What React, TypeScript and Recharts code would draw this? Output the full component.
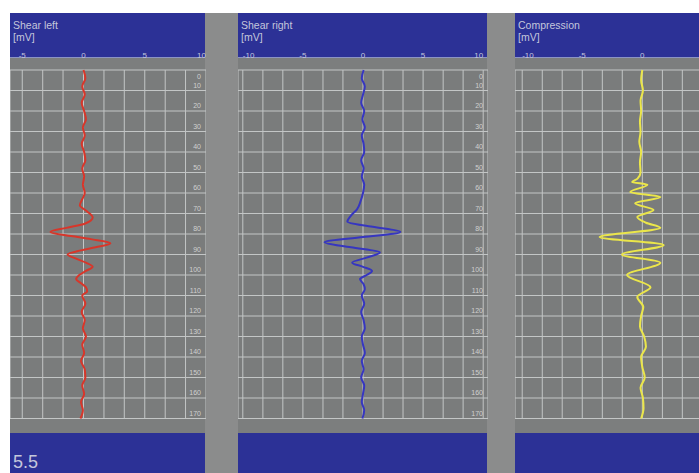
import React from "react";
import { LineChart, Line, XAxis, YAxis, CartesianGrid } from "recharts";

// depth scale (right-hand labels), shared by all three traces
const depthTicks = [0, 10, 20, 30, 40, 50, 60, 70, 80, 90, 100, 110, 120, 130, 140, 150, 160, 170];

// amplitude grid lines [mV]; only multiples of 5 get a label
const ampTicksLeft = [-5, -3.33, -1.67, 0, 1.67, 3.33, 5, 6.67, 8.33, 10];
const ampTicksWide = [-10, -8.33, -6.67, -5, -3.33, -1.67, 0, 1.67, 3.33, 5, 6.67, 8.33, 10];
const ampTicksComp = [-10, -8.33, -6.67, -5, -3.33, -1.67, 0, 1.67, 3.33];

// Shear left
const leftDepth = [
  0, 4, 8, 12, 16, 20, 24, 28, 32, 36,
  40, 44, 48, 52, 56, 60, 63, 66, 69, 72,
  75, 77, 79, 81, 82.5, 84.5, 86.5, 88, 90, 92,
  94, 96, 98, 100, 102, 104, 106, 108, 110, 114,
  118, 122, 126, 130, 134, 138, 142, 146, 150, 154,
  158, 162, 166, 170,
];
const leftAmp = [
  0, 0.15, -0.1, 0.1, -0.15, 0.05, 0.2, -0.05, 0.1, -0.15,
  0.05, 0.15, -0.1, 0.05, -0.05, 0.1, -0.1, -0.3, 0.3, 0.75,
  0.1, -1.4, -2.7, -1.0, 0.6, 2.2, 1.0, -0.2, -1.3, -0.6,
  0.2, 0.75, 0.2, -0.35, -0.6, -0.2, 0.2, 0.3, -0.1, 0.15,
  -0.15, 0.1, -0.05, 0.2, -0.1, 0.05, -0.2, 0.1, 0.15, -0.1,
  0.05, -0.2, -0.05, -0.25,
];

// Shear right
const rightDepth = [
  0, 4, 8, 12, 16, 20, 24, 28, 32, 36,
  40, 44, 48, 52, 56, 60, 64, 68, 71, 74,
  76.5, 79, 81.5, 84, 86.5, 89, 91.5, 94, 96, 98,
  100, 102, 104.5, 107, 110, 114, 118, 122, 126, 130,
  134, 138, 142, 146, 150, 154, 158, 162, 166, 170,
];
const rightAmp = [
  0.05, -0.1, 0.15, 0, -0.15, 0.1, -0.05, 0.15, -0.1, 0.05,
  0.1, -0.15, 0.05, -0.1, 0.1, 0, -0.2, -0.5, -1.0, -1.3,
  0.8, 3.1, 0, -3.2, -1.0, 1.4, 0.3, -0.9, 0, 0.75,
  0.3, -0.25, 0.05, 0.15, -0.1, 0.1, -0.15, 0.05, 0.15, -0.1,
  0, 0.15, -0.1, 0.05, -0.15, 0.1, 0, -0.1, 0.1, -0.05,
];

// Compression
const compDepth = [
  0, 5, 10, 15, 20, 25, 30, 35, 40, 45,
  50, 53, 54.6, 56, 59.5, 62, 65, 68.3, 71.7, 74.5,
  77, 81.5, 85.4, 90, 94, 100, 106, 110.7, 115.6, 120,
  125, 130, 135, 140, 145, 150, 155, 160, 165, 170,
];
const compAmp = [
  0, -0.1, 0.05, -0.15, -0.1, -0.2, -0.15, -0.25, -0.1, -0.2,
  -0.15, -0.4, -0.85, 0.42, -1.0, 1.5, -0.6, 0.93, -0.42, 0.3,
  1.5, -3.56, 1.78, -1.7, 1.5, -1.27, 0.68, -0.42, 0.08, -0.1,
  -0.2, 0.15, 0.3, -0.1, 0, 0.2, -0.15, 0.05, 0.1, -0.1,
];

const zip = (d: number[], a: number[]) => d.map((depth, i) => ({ depth, amp: a[i] }));

const FONT = '"Liberation Sans", Arial, sans-serif';
const BLUE = "#2c3196";
const TXT = "#c4c7dc";

const HeaderTick = (props: any) => {
  const { x, y, payload, lo, hi } = props;
  const v = payload.value;
  if (Math.abs(v % 5) > 0.01) return <g />;
  let anchor = "middle";
  if (v === lo) anchor = "start";
  if (v === hi) anchor = "end";
  return (
    <text x={x} y={y} dy={-12} textAnchor={anchor} fontSize={8} fill={TXT} fontFamily={FONT}>
      {v}
    </text>
  );
};

const DepthTick = (props: any) => {
  const { x, y, payload } = props;
  const v = payload.value;
  return (
    <text
      x={x}
      y={y}
      dx={-5}
      dy={v === 0 ? 9 : -3}
      textAnchor="end"
      fontSize={7}
      fill="#d0d0d0"
      fontFamily={FONT}
    >
      {v}
    </text>
  );
};

// compression labels sit off the right edge of the screen
const NoTick = () => <g />;

interface PanelProps {
  left: number;
  width: number;
  title: string;
  domain: [number, number];
  ticks: number[];
  lo: number | null;
  hi: number | null;
  color: string;
  showDepth: boolean;
  data: { depth: number; amp: number }[];
}

function Panel(props: PanelProps) {
  const { left, width, title, domain, ticks, lo, hi, color, showDepth, data } = props;
  return (
    <>
      <div style={{ position: "absolute", left, top: 58, width, height: 375, background: "#7c7e7e" }} />
      <div
        style={{
          position: "absolute",
          left,
          top: 13,
          width,
          height: 44,
          background: BLUE,
          borderBottom: "1px solid #8c94c4",
          color: TXT,
          fontFamily: FONT,
          fontSize: 10.5,
          lineHeight: "12px",
        }}
      >
        <div style={{ position: "absolute", left: 3, top: 6 }}>{title}</div>
        <div style={{ position: "absolute", left: 3, top: 18 }}>[mV]</div>
      </div>
      <div style={{ position: "absolute", left, top: 433, width, height: 40, background: BLUE }} />
      <div style={{ position: "absolute", left, top: 40 }}>
        <LineChart
          layout="vertical"
          width={width + 1}
          height={390}
          data={data}
          margin={{ top: 29, right: 0, bottom: 11.5, left: 0 }}
          style={{ overflow: "visible" }}
        >
          <CartesianGrid stroke="#c3c6c6" strokeWidth={1} fill="#7a7c7c" />
          <XAxis
            type="number"
            orientation="top"
            domain={domain}
            ticks={ticks}
            allowDataOverflow
            height={1}
            axisLine={false}
            tickLine={false}
            tickSize={0}
            tickMargin={0}
            tick={<HeaderTick lo={lo} hi={hi} />}
            interval={0}
          />
          <YAxis
            type="number"
            dataKey="depth"
            orientation="right"
            mirror
            width={1}
            domain={[0, 170]}
            ticks={depthTicks}
            axisLine={false}
            tickLine={false}
            tickSize={0}
            tickMargin={0}
            interval={0}
            tick={showDepth ? <DepthTick /> : <NoTick />}
          />
          <Line
            type="monotone"
            dataKey="amp"
            stroke={color}
            strokeWidth={2}
            dot={false}
            isAnimationActive={false}
          />
        </LineChart>
      </div>
    </>
  );
}

export default function App() {
  return (
    <div
      style={{
        position: "absolute",
        left: 0,
        top: 0,
        width: 699,
        height: 473,
        overflow: "hidden",
        background: "#ffffff",
      }}
    >
      <div style={{ position: "absolute", left: 10, top: 13, width: 689, height: 460, background: "#8b8c8c" }} />
      <Panel
        left={10}
        width={195}
        title="Shear left"
        domain={[-6, 10]}
        ticks={ampTicksLeft}
        lo={null}
        hi={10}
        color="#d8362a"
        showDepth
        data={zip(leftDepth, leftAmp)}
      />
      <Panel
        left={238}
        width={249}
        title="Shear right"
        domain={[-10.4, 10.4]}
        ticks={ampTicksWide}
        lo={-10}
        hi={10}
        color="#3636c0"
        showDepth
        data={zip(rightDepth, rightAmp)}
      />
      <Panel
        left={515}
        width={184}
        title="Compression"
        domain={[-10.6, 4.8]}
        ticks={ampTicksComp}
        lo={-10}
        hi={null}
        color="#ebe64a"
        showDepth={false}
        data={zip(compDepth, compAmp)}
      />
      <div
        style={{
          position: "absolute",
          left: 13,
          top: 452,
          color: TXT,
          fontFamily: FONT,
          fontSize: 18,
          lineHeight: "20px",
        }}
      >
        5.5
      </div>
    </div>
  );
}
